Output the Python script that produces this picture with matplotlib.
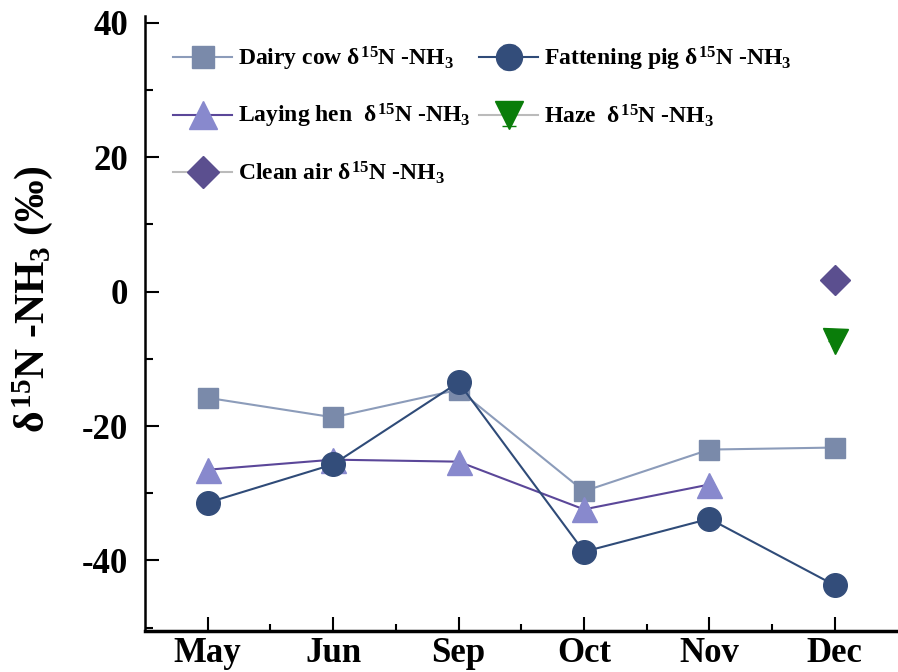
import numpy as np
import matplotlib
matplotlib.use('Agg')
import matplotlib.pyplot as plt
from matplotlib.ticker import MultipleLocator, FixedLocator

plt.rcParams['font.family'] = ['Liberation Serif', 'DejaVu Serif']
plt.rcParams['font.weight'] = 'bold'
plt.rcParams['axes.unicode_minus'] = False
plt.rcParams['mathtext.fontset'] = 'custom'
plt.rcParams['mathtext.rm'] = 'Liberation Serif:bold'
plt.rcParams['mathtext.bf'] = 'Liberation Serif:bold'
plt.rcParams['mathtext.it'] = 'Liberation Serif:bold'

months = ['May', 'Jun', 'Sep', 'Oct', 'Nov', 'Dec']
dairy_cow = [-15.8, -18.7, -14.6, -29.7, -23.5, -23.2]
fattening_pig = [-31.4, -25.7, -13.5, -38.7, -33.8, -43.7]
fattening_pig_err = [0.4, 0.6, 0.6, 0.5, 0.4, 1.0]
laying_hen = [-26.5, -25.0, -25.3, -32.4, -28.7]
haze = [-7.3]
haze_err = [1.2]
clean_air = [1.8]

x = np.arange(1, len(months) + 1)

fig = plt.figure(figsize=(8.98, 6.72), dpi=100)
ax = fig.add_axes([0.1615, 0.061, 0.838, 0.915])

sup = r'$\delta^{\mathbf{15}}$N -NH$_\mathbf{3}$'
ax.plot(x, dairy_cow, color='#8C9CBA', lw=1.5, marker='s', ms=15,
        mfc='#7A8AAA', mec='#7A8AAA', label='Dairy cow ' + sup)
ax.errorbar(x, fattening_pig, yerr=fattening_pig_err, color='#2F4B78', lw=1.5,
            marker='o', ms=17, mfc='#334D7A', mec='#334D7A', capsize=4,
            ecolor='#2F4B78', elinewidth=1, label='Fattening pig ' + sup)
ax.plot(x[:len(laying_hen)], laying_hen, color='#5B4799', lw=1.5, marker='^',
        ms=18, mfc='#8889CD', mec='#8889CD', label='Laying hen  ' + sup)
ax.errorbar(x[-1:], haze, yerr=[[0], haze_err], color='#BBBBBB', lw=1.5,
            marker='v', ms=18, mfc='#0A7D0A', mec='#0A7D0A', capsize=5,
            ecolor='#0A7D0A', elinewidth=1, label='Haze  ' + sup)
ax.plot(x[-1:], clean_air, color='#BBBBBB', lw=1.5, marker='D', ms=15,
        mfc='#5B4F8F', mec='#5B4F8F', label='Clean air ' + sup)

ax.set_xlim(0.5, 6.5)
ax.set_ylim(-50.5, 41)
ax.set_xticks(x)
ax.set_xticklabels(months)
ax.xaxis.set_minor_locator(FixedLocator(x[:-1] + 0.5))
ax.yaxis.set_major_locator(MultipleLocator(20))
ax.yaxis.set_minor_locator(MultipleLocator(10))
ax.tick_params(which='both', direction='in', labelsize=25, width=1.5)
ax.tick_params(which='major', length=10)
ax.tick_params(axis='y', which='major', pad=12)
ax.tick_params(axis='x', which='major', pad=4)
ax.tick_params(which='minor', length=6)
ax.tick_params(axis='x', which='minor', length=5)
for lab in ax.get_xticklabels() + ax.get_yticklabels():
    lab.set_fontweight('bold')

for s in ['top', 'right']:
    ax.spines[s].set_visible(False)
ax.spines['left'].set_linewidth(1.8)
ax.spines['bottom'].set_linewidth(2.5)

ax.set_ylabel(r'$\delta^{\mathbf{15}}$N -NH$_\mathbf{3}$ (‰)', fontsize=30,
              fontweight='bold')
ax.yaxis.set_label_coords(-0.12, 0.54)

ax.legend(loc='upper left', ncol=2, frameon=False,
          prop={'weight': 'bold', 'size': 17}, handlelength=2.5,
          columnspacing=0.35, labelspacing=1.25, borderaxespad=0.8,
          handletextpad=0.25, markerscale=1.1)

fig.savefig('out.png', dpi=100)
